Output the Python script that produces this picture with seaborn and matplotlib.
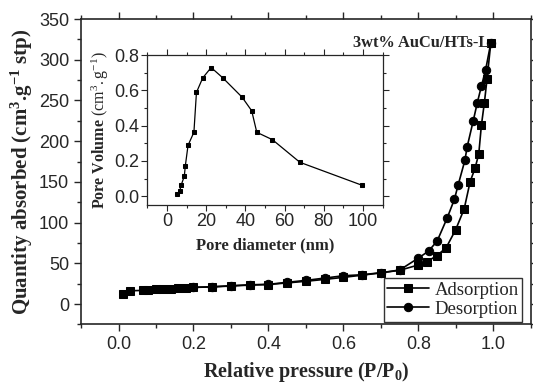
import numpy as np
import pandas as pd
import matplotlib
matplotlib.use("Agg")
import matplotlib.pyplot as plt
from matplotlib.ticker import MultipleLocator
import seaborn as sns

# Isotherm data
ads_p = [0.011, 0.031, 0.065, 0.080, 0.099, 0.119, 0.139, 0.159, 0.179, 0.199,
         0.25, 0.30, 0.35, 0.40, 0.45, 0.50, 0.55, 0.60, 0.65, 0.70, 0.75,
         0.80, 0.822, 0.849, 0.874, 0.899, 0.922, 0.938, 0.951, 0.961,
         0.968, 0.976, 0.983, 0.993]
ads_v = [12.6, 16.3, 16.8, 17.6, 18.0, 18.4, 18.8, 19.7, 20.0, 20.5,
         21.0, 22.2, 23.3, 24.0, 26.0, 28.0, 30.3, 32.8, 35.5, 38.3, 41.5,
         48.0, 52.0, 59.3, 69.2, 90.9, 116.7, 150.3, 166.7, 184.3,
         219.5, 247.3, 276.0, 320.3]
des_p = [0.993, 0.979, 0.968, 0.957, 0.946, 0.930, 0.924, 0.906, 0.896,
         0.877, 0.850, 0.827, 0.80, 0.75, 0.70, 0.65, 0.60, 0.55, 0.50,
         0.45, 0.40, 0.35, 0.30, 0.25, 0.20]
des_v = [320.3, 287.0, 267.5, 247.0, 224.5, 193.0, 176.5, 146.2, 128.6,
         106.0, 77.4, 65.0, 56.5, 41.8, 38.5, 36.0, 34.8, 31.9, 29.1,
         26.7, 24.2, 23.7, 22.5, 21.3, 20.5]

# Pore size distribution (inset)
pore_d = [5.2, 6.5, 7.3, 8.8, 9.3, 10.7, 13.7, 15.0, 18.2, 22.5, 28.5,
          38.3, 43.2, 45.8, 53.8, 67.8, 99.5]
pore_vol = [0.010, 0.032, 0.066, 0.113, 0.170, 0.288, 0.362, 0.588, 0.670,
            0.729, 0.670, 0.561, 0.484, 0.362, 0.320, 0.192, 0.062]

sns.set_style("ticks")
plt.rcParams["font.family"] = ["Liberation Sans", "DejaVu Sans"]
plt.rcParams["mathtext.fontset"] = "custom"
plt.rcParams["mathtext.rm"] = "Liberation Serif"
plt.rcParams["mathtext.bf"] = "Liberation Serif:bold"
plt.rcParams["mathtext.it"] = "Liberation Serif:italic"

serif = "Liberation Serif"

fig = plt.figure(figsize=(5.33, 3.89), dpi=100)
ax = fig.add_axes([0.152, 0.166, 0.844, 0.785])

sns.lineplot(x=ads_p, y=ads_v, ax=ax, sort=False, estimator=None, color="black",
             marker="s", markersize=5.5, markeredgecolor="black", linewidth=1.2,
             label="Adsorption")
sns.lineplot(x=des_p, y=des_v, ax=ax, sort=False, estimator=None, color="black",
             marker="o", markersize=6, markeredgecolor="black", linewidth=1.2,
             label="Desorption")

ax.set_xlim(-0.1, 1.1)
ax.set_ylim(-25, 350)
ax.xaxis.set_major_locator(MultipleLocator(0.2))
ax.xaxis.set_minor_locator(MultipleLocator(0.1))
ax.yaxis.set_major_locator(MultipleLocator(50))
ax.yaxis.set_minor_locator(MultipleLocator(25))
ax.tick_params(which="both", direction="out", top=True, right=True,
               labeltop=False, labelright=False, width=1, labelsize=13)
ax.tick_params(which="major", length=5)
ax.tick_params(which="minor", length=3)
for s in ax.spines.values():
    s.set_linewidth(1.2)

ax.set_xlabel("Relative pressure (P/P$_\\mathbf{0}$)", family=serif,
              fontweight="bold", fontsize=14.5, labelpad=5)
ax.set_ylabel("Quantity absorbed (cm$^\\mathbf{3}$.g$^\\mathbf{-1}$ stp)",
              family=serif, fontweight="bold", fontsize=15, labelpad=3)
ax.text(0.99, 320, "3wt% AuCu/HTs-L", family=serif, fontweight="bold",
        fontsize=11.8, ha="right", va="center")

leg = ax.legend(loc="lower right", bbox_to_anchor=(0.981, 0.009),
                prop={"family": serif, "size": 13.5},
                frameon=True, fancybox=False, edgecolor="black",
                handlelength=2.2, handletextpad=0.3, borderpad=0.2,
                labelspacing=0.1, borderaxespad=0)
leg.get_frame().set_linewidth(1)

# Inset
ins = fig.add_axes([0.2767, 0.473, 0.441, 0.3856])
sns.lineplot(x=pore_d, y=pore_vol, ax=ins, sort=False, estimator=None,
             color="black", marker="s", markersize=3.5, markeredgecolor="black",
             linewidth=0.9)
ins.set_xlim(-10, 110)
ins.set_ylim(-0.05, 0.8)
ins.xaxis.set_major_locator(MultipleLocator(20))
ins.xaxis.set_minor_locator(MultipleLocator(10))
ins.yaxis.set_major_locator(MultipleLocator(0.2))
ins.yaxis.set_minor_locator(MultipleLocator(0.1))
ins.tick_params(which="both", direction="out", width=0.8, labelsize=13,
                pad=2)
ins.tick_params(which="major", length=4)
ins.tick_params(which="minor", length=2.5)
ins.tick_params(which="both", top=True, right=True, labeltop=False,
                labelright=False)
for s in ins.spines.values():
    s.set_linewidth(0.9)
ins.set_xlabel("Pore diameter (nm)", family=serif, fontweight="bold",
               fontsize=12, labelpad=5)
ins.set_ylabel("Pore Volume $\\mathrm{(cm^{3}.g^{-1})}$", family=serif,
               fontweight="bold", fontsize=11.5, labelpad=2)

fig.savefig("out.png", dpi=100)
